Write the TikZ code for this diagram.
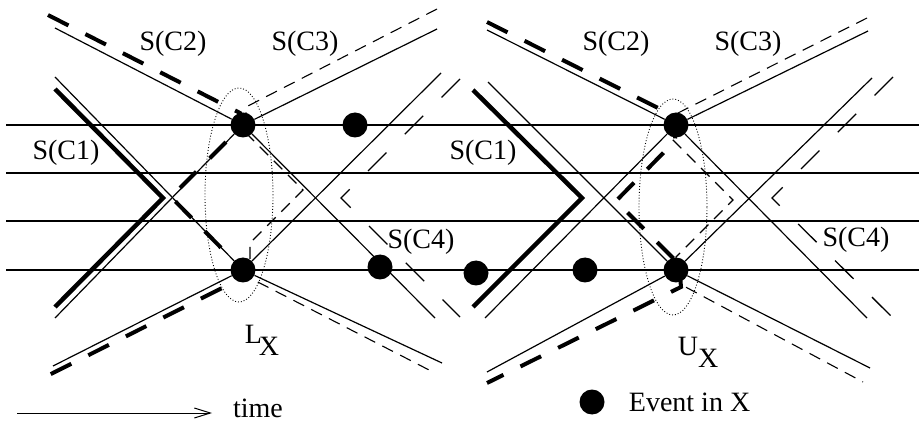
\documentclass[tikz,border=0pt]{standalone}
\usepackage{fontspec}
\setmainfont{Liberation Serif}
\usetikzlibrary{arrows.meta, positioning}

\begin{document}
\begin{tikzpicture}[
    x=1pt, y=-1pt,
    every node/.style={font=\fontsize{28}{30}\selectfont},
    evt/.style={circle, fill=black, inner sep=0pt, minimum size=25pt},
    lbl/.style={inner sep=2pt},
    rail/.style={line width=1.1pt},
    wline/.style={line width=1.2pt},
    cone/.style={line width=4.5pt, line join=miter},
    bdash/.style={line width=4pt, dash pattern=on 23pt off 19pt},
    tdash/.style={line width=1.1pt, dash pattern=on 12pt off 8pt},
    ldash/.style={line width=1.3pt, dash pattern=on 26pt off 26pt},
    hull/.style={line width=0.9pt, dotted},
    arr/.style={-{Straight Barb[length=16pt, width=10pt]}, line width=1pt}
  ]
  \useasboundingbox (0,0) rectangle (919,422);

  % events
  \node[evt] (ltop) at (243,125) {};
  \node[evt] (lbot) at (243,270) {};
  \node[evt] (ea) at (355,125) {};
  \node[evt] (eb) at (380,267) {};
  \node[evt] (ec) at (476,273) {};
  \node[evt] (ed) at (585,270) {};
  \node[evt] (utop) at (676,125) {};
  \node[evt] (ubot) at (676,270) {};

  % process lines
  \foreach \y in {125,173,221,270}
    \draw[rail] (6,\y) -- (919,\y);

  % left cut
  \coordinate (l2a) at (55,28);
  \coordinate (l3b) at (437,29);
  \coordinate (lBa) at (55,318);
  \coordinate (lAa) at (55,77);
  \coordinate (ldr) at (435,318);
  \coordinate (lur) at (441,73);
  \coordinate (ldl) at (53,366);
  \coordinate (lbr) at (442,363);
  \draw[wline] (l2a) -- (ltop) -- (l3b);
  \draw[wline] (lBa) -- (ltop) -- (ldr);
  \draw[wline] (lAa) -- (lbot) -- (lur);
  \draw[wline] (ldl) -- (lbot) -- (lbr);
  \draw[cone] (55,89) -- (163,198) -- (55,307);
  \draw[bdash] (48,15) -- (240,113) -- (ltop.center) -- (171,197)
    -- (lbot.center) -- (238,280) -- (47,376);
  \draw[tdash] (437,9) -- (246,107) -- (246,133) -- (303,190)
    -- (250,243) -- (250,278) -- (433,372);
  \draw[ldash] (460,79) -- (341,198) -- (460,317);
  \draw[hull] (239,195) ellipse [x radius=34pt, y radius=107pt];

  % right cut
  \coordinate (r2a) at (487,30);
  \coordinate (r3b) at (868,31);
  \coordinate (rBa) at (485,318);
  \coordinate (rAa) at (488,82);
  \coordinate (rdr) at (867,318);
  \coordinate (rur) at (872,78);
  \coordinate (rdl) at (487,372);
  \coordinate (rbr) at (870,368);
  \draw[wline] (r2a) -- (utop) -- (r3b);
  \draw[wline] (rBa) -- (utop) -- (rdr);
  \draw[wline] (rAa) -- (ubot) -- (rur);
  \draw[wline] (rdl) -- (ubot) -- (rbr);
  \draw[cone] (473,90) -- (582,198) -- (473,307);
  \draw[bdash] (487,22) -- (676,117) -- (675,141) -- (616,201)
    -- (679,264) -- (681,287) -- (487,383);
  \draw[tdash] (867,18) -- (678,113) -- (671,138) -- (733,200)
    -- (676,257) -- (680,284) -- (863,382);
  \draw[ldash] (893,77) -- (772,198) -- (893,318);
  \draw[hull] (673,207) ellipse [x radius=34pt, y radius=108pt];

  % labels
  \node[lbl] (c1l) at (66,153) {S(C1)};
  \node[lbl] (c2l) at (173,44) {S(C2)};
  \node[lbl] (c3l) at (305,44) {S(C3)};
  \node[lbl] (c4l) at (421,242) {S(C4)};
  \node[lbl] (c1r) at (483,153) {S(C1)};
  \node[lbl] (c2r) at (616,44) {S(C2)};
  \node[lbl] (c3r) at (748,44) {S(C3)};
  \node[lbl] (c4r) at (856,240) {S(C4)};
  \node[lbl] (lx) at (262,340) {L\kern-3pt\raisebox{-12pt}{X}};
  \node[lbl] (ux) at (698,352) {U\raisebox{-12pt}{X}};

  % legend
  \coordinate (tstart) at (17,413);
  \coordinate (tend) at (212,413);
  \draw[arr] (tstart) -- (tend);
  \node[lbl] (time) at (258,408) {time};
  \node[evt] (key) at (592,402) {};
  \node[lbl, right=22pt of key] (keytext) {Event in X};
\end{tikzpicture}
\end{document}
